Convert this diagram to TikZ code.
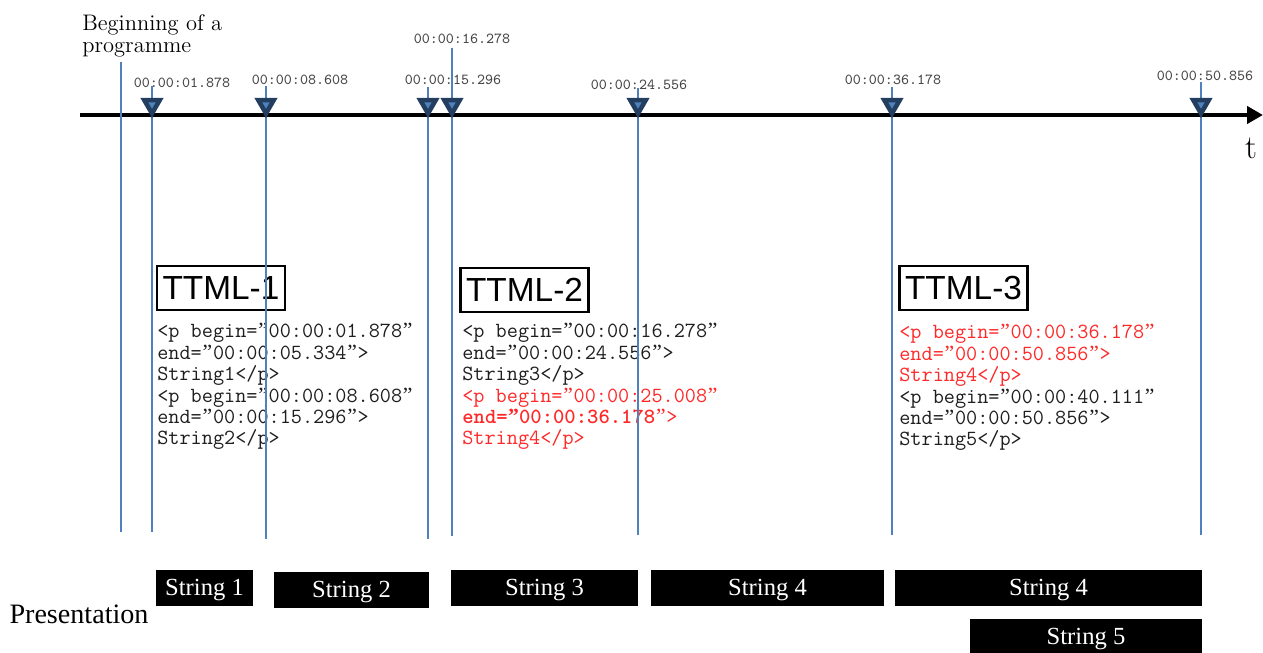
\documentclass[tikz,border=0pt]{standalone}
\usepackage{fontspec}
\usetikzlibrary{arrows.meta,shapes.geometric}
\newfontfamily\labelfont{Liberation Sans}
\newfontfamily\capfont{Liberation Serif}
\definecolor{guideblue}{RGB}{79,129,189}
\definecolor{markblue}{RGB}{36,62,96}
\definecolor{stampgray}{RGB}{70,70,70}
\definecolor{codeink}{RGB}{30,30,30}
\definecolor{hotred}{RGB}{255,40,40}
% slanted closing quote, one mono cell wide
\newcommand\cq{\makebox[\fontcharwd\font`0]{\capfont ”}}
\tikzset{
  axis/.style={black,line width=2.3pt,-{Triangle[length=3.2mm,width=3.4mm]}},
  guide/.style={guideblue,line width=1.1pt},
  marker/.style={regular polygon,regular polygon sides=3,shape border rotate=180,
                 fill=markblue,inner sep=0pt,minimum size=5.4mm},
  pip/.style={regular polygon,regular polygon sides=3,shape border rotate=180,
              fill=guideblue,inner sep=0pt,minimum size=1.7mm},
  stamp/.style={font=\ttfamily\fontsize{8.7}{10}\selectfont,text=stampgray,inner sep=0pt},
  ttml/.style={draw=black,line width=1.2pt,font=\labelfont\fontsize{19}{21}\selectfont,
               inner sep=0pt,minimum width=25.6mm,minimum height=8.8mm},
  code/.style={font=\ttfamily\fontsize{12.3}{12.2}\selectfont,text=codeink,
               align=left,inner sep=0pt,anchor=north west},
  strbox/.style={fill=black,text=white,font=\capfont\fontsize{14}{16}\selectfont,
                 inner sep=0pt,minimum height=7.2mm,text height=1em,text depth=0.15em},
  lab/.style={inner sep=0pt},
}

\begin{document}
\begin{tikzpicture}[x=0.02cm,y=-0.02cm]
  \path[use as bounding box] (0,0) rectangle (1263,652);

  % time axis
  \coordinate (t0) at (80,115);
  \coordinate (t1) at (1263,115);
  \draw[axis] (t0) -- (t1);
  \node[lab,font=\fontsize{19}{21}\selectfont] (tlab) at (1251,148) {t};

  \node[lab,align=left,anchor=north west,font=\fontsize{12.8}{12.6}\selectfont] (start)
    at (82,14) {Beginning of a\\programme};

  % time stamps
  \node[stamp] (s1) at (182,83) {00:00:01.878};
  \node[stamp] (s2) at (300,80) {00:00:08.608};
  \node[stamp] (s3) at (453,80) {00:00:15.296};
  \node[stamp] (s4) at (462,39) {00:00:16.278};
  \node[stamp] (s5) at (639,85) {00:00:24.556};
  \node[stamp] (s6) at (893,80) {00:00:36.178};
  \node[stamp] (s7) at (1205,76) {00:00:50.856};

  % TTML documents
  \node[ttml] (ttml1) at (221,288) {TTML-1};
  \node[ttml] (ttml2) at (524.5,290) {TTML-2};
  \node[ttml] (ttml3) at (963.5,288) {TTML-3};

  \node[code] (doc1) at (157,323)
    {<p begin=\cq00:00:01.878\cq\\end=\cq00:00:05.334\cq>\\String1</p>\\
     <p begin=\cq00:00:08.608\cq\\end=\cq00:00:15.296\cq>\\String2</p>};
  \node[code] (doc2) at (462,323)
    {<p begin=\cq00:00:16.278\cq\\end=\cq00:00:24.556\cq>\\String3</p>\\
     \textcolor{hotred}{<p begin=\cq00:00:25.008\cq}\\
     \textcolor{hotred}{\textbf{end=\cq00:00:36.178}\cq>}\\
     \textcolor{hotred}{String4</p>}};
  \node[code] (doc3) at (899,324)
    {\textcolor{hotred}{<p begin=\cq00:00:36.178\cq}\\
     \textcolor{hotred}{end=\cq00:00:50.856\cq>}\\
     \textcolor{hotred}{String4</p>}\\
     <p begin=\cq00:00:40.111\cq\\end=\cq00:00:50.856\cq>\\String5</p>};

  % guide lines and markers
  \coordinate (top0) at (121,62);
  \coordinate (bot0) at (121,532);
  \draw[guide] (top0) -- (bot0);
  \foreach \n/\x/\a/\b in {1/152/86/532, 2/266/86/539, 3/428/87/539, 4/452/48/536,
                          5/638/88/535, 6/892/87/535, 7/1201/82/535}{
    \coordinate (top\n) at (\x,\a);
    \coordinate (bot\n) at (\x,\b);
    \draw[guide] (top\n) -- (bot\n);
    \node[marker] (m\n) at (\x,104.5) {};
    \node[pip] at (m\n.center) {};
  }

  % presentation
  \node[lab,font=\capfont\fontsize{16}{18}\selectfont] (pres) at (79,614) {Presentation};
  \node[strbox,minimum width=19.4mm] (str1) at (204.5,588) {String 1};
  \node[strbox,minimum width=31mm] (str2) at (351.5,590) {String 2};
  \node[strbox,minimum width=37.4mm] (str3) at (544.5,588) {String 3};
  \node[strbox,minimum width=46.6mm] (str4) at (767.5,588) {String 4};
  \node[strbox,minimum width=61.4mm] (str4b) at (1048.5,588) {String 4};
  \node[strbox,minimum width=46.4mm] (str5) at (1086,637) {String 5};
\end{tikzpicture}
\end{document}
